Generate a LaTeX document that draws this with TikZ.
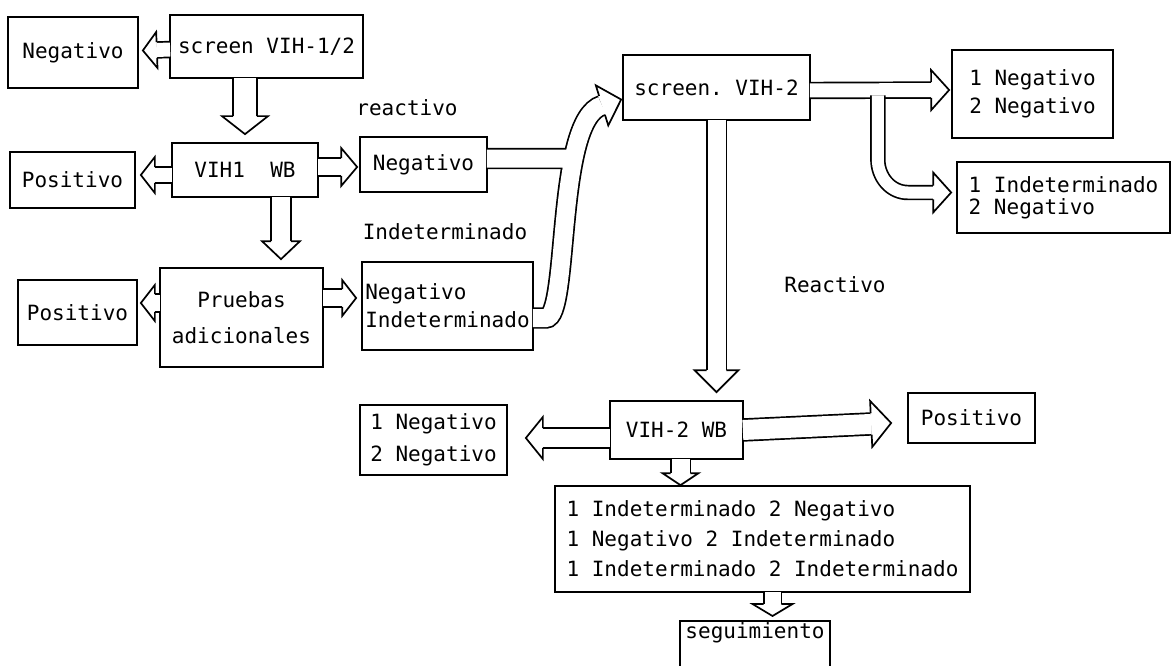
\documentclass[tikz,border=0pt]{standalone}
\usepackage{fontspec}
\newfontfamily\dmono{DejaVu Sans Mono}
\usetikzlibrary{arrows.meta,calc}
\pgfdeclarearrow{
  name = Hollow,
  parameters = {\the\pgfarrowlength,\the\pgfarrowwidth,\the\pgfarrowinset},
  setup code = {
    \pgfarrowssettipend{\pgfarrowlength}
    \pgfarrowssetlineend{0pt}
    \pgfarrowssetvisualbackend{0pt}
    \pgfarrowssetbackend{0pt}
    \pgfarrowssavethe\pgfarrowlength
    \pgfarrowssavethe\pgfarrowwidth
    \pgfarrowssavethe\pgfarrowinset
  },
  drawing code = {
    \pgfsetlinewidth{1.7pt}
    \pgfsetmiterjoin
    \pgfsetbuttcap
    \pgfsetfillcolor{white}
    \pgfpathmoveto{\pgfqpoint{0pt}{\pgfarrowinset}}
    \pgfpathlineto{\pgfqpoint{0pt}{.5\pgfarrowwidth}}
    \pgfpathlineto{\pgfqpoint{\pgfarrowlength}{0pt}}
    \pgfpathlineto{\pgfqpoint{0pt}{-.5\pgfarrowwidth}}
    \pgfpathlineto{\pgfqpoint{0pt}{-\pgfarrowinset}}
    \pgfusepathqfillstroke
  },
  defaults = {length=16pt, width=38pt, inset=7.8pt}
}
\tikzset{
  txt/.style={font=\dmono\fontsize{21}{28}\selectfont},
  box/.style={txt, draw, line width=1.7pt, inner sep=3pt},
  lbl/.style={txt, inner sep=0pt},
  ha/.style n args={4}{draw, double=white, double distance=#1pt, line width=1.7pt,
    -{Hollow[inset=#2pt,length=#3pt,width=#4pt]}}
}
\begin{document}
\begin{tikzpicture}[x=1pt,y=-1pt]
\useasboundingbox (0,0) rectangle (1172,666);
\fill[white] (0,0) rectangle (1172,666);
\clip (0,0) rectangle (1172,666);
% boxes
\node[box, minimum width=130pt, minimum height=71pt] (n1) at (73,52.5) {Negativo};
\node[box, minimum width=193pt, minimum height=63pt] (s1) at (266.5,46.5) {screen VIH-1/2};
\node[box, minimum width=146pt, minimum height=54pt] (wb1) at (245,170) {VIH1~~WB};
\node[box, minimum width=125pt, minimum height=56pt] (p1) at (72.5,180) {Positivo};
\node[box, minimum width=127pt, minimum height=55pt] (neg2) at (423.5,164.5) {Negativo};
\node[box, minimum width=163pt, minimum height=99pt, align=center] (pa) at (241.5,317.5) {Pruebas\\[8pt]adicionales};
\node[box, minimum width=119pt, minimum height=65pt] (p2) at (77.5,312.5) {Positivo};
\node[box, minimum width=171pt, minimum height=88pt, align=left] (ni) at (447.5,306) {Negativo\\Indeterminado};
\node[box, minimum width=187pt, minimum height=65pt] (s2) at (716.5,87.5) {screen.~VIH-2};
\node[box, minimum width=161pt, minimum height=88pt, align=left] (r1) at (1032.5,94) {1 Negativo\\2 Negativo};
\node[box, minimum width=213pt, minimum height=71pt, align=left] (r2) at (1063.5,197.5) {1 Indeterminado\\[-6pt]2 Negativo};
\node[box, minimum width=133pt, minimum height=58pt] (wb2) at (676.5,430) {VIH-2 WB};
\node[box, minimum width=147pt, minimum height=70pt, align=left] (l3) at (433.5,440) {1 Negativo\\[4pt]2 Negativo};
\node[box, minimum width=127pt, minimum height=50pt] (p3) at (971.5,418) {Positivo};
\node[box, minimum width=415pt, minimum height=106pt, align=left] (big) at (762.5,539) {1 Indeterminado 2 Negativo\\[2pt]1 Negativo 2 Indeterminado\\[2pt]1 Indeterminado 2 Indeterminado};
\node[box, anchor=north, minimum width=150pt, text height=15pt, text depth=50pt] (seg) at (755,620) {seguimiento};
% labels
\node[lbl] (t1) at (407,108) {reactivo};
\node[lbl] (t2) at (445,232) {Indeterminado};
\node[lbl] (t3) at (835,285) {Reactivo};
% arrows
\draw[ha={14}{7.85}{14}{36}] ($(s1.west)+(1,3)$) -- ($(n1.east)+(4,-2)$);
\draw[ha={22}{11.85}{18}{46}] ($(s1.south)+(-21.5,-1)$) -- ($(wb1.north)+(0,-8)$);
\draw[ha={14}{7.85}{14}{36}] ($(wb1.west)+(1,5)$) -- ($(p1.east)+(5,-5)$);
\draw[ha={16}{8.85}{16}{38}] ($(wb1.east)+(-1,-3)$) -- ($(neg2.west)+(-2,2.5)$);
\draw[ha={18}{9.85}{18}{38}] ($(wb1.south)+(36,-1)$) -- ($(pa.north)+(39.5,-8)$);
\draw[ha={16}{8.85}{14}{36}] ($(pa.west)+(1,-14.5)$) -- ($(p2.east)+(3,-9.5)$);
\draw[ha={16}{8.85}{14}{36}] ($(pa.east)+(-1,-19.5)$) -- ($(ni.west)+(-5,-8)$);
\draw[ha={18}{9.85}{20}{42}]
  ($(neg2.east)+(-1,-6)$) -- ++(93,0)
  ($(ni.east)+(-1,12)$) -- ++(13,0) .. controls +(24,0) and (555,120) .. ($(s2.west)+(-1,12)$);
\draw[ha={14}{7.85}{18}{40}] ($(s2.east)+(-1,3)$) -- ($(r1.west)+(-2,-4)$);
\draw[ha={12}{6.85}{18}{40}] ($(s2.east)+(67,8)$) -- ++(0,64) to[out=-90,in=180] ++(30,33) -- ($(r2.west)+(-5,-5)$);
\draw[ha={18}{9.85}{22}{44}] ($(s2.south)+(0,-1)$) -- ($(wb2.north)+(40,-8)$);
\draw[ha={18}{9.85}{17}{42}] ($(wb2.west)+(1,8)$) -- ($(l3.east)+(18,-2)$);
\draw[ha={20}{10.85}{20}{46}] ($(wb2.east)+(-1,0)$) -- ($(p3.west)+(-16,5)$);
\draw[ha={18}{9.85}{12}{36}] ($(wb2.south)+(4,-1)$) -- ($(big.north)+(-82,0)$);
\draw[ha={16}{8.85}{12}{40}] ($(big.south)+(10,-1)$) -- ($(seg.north)+(17.5,-4)$);
\end{tikzpicture}
\end{document}
